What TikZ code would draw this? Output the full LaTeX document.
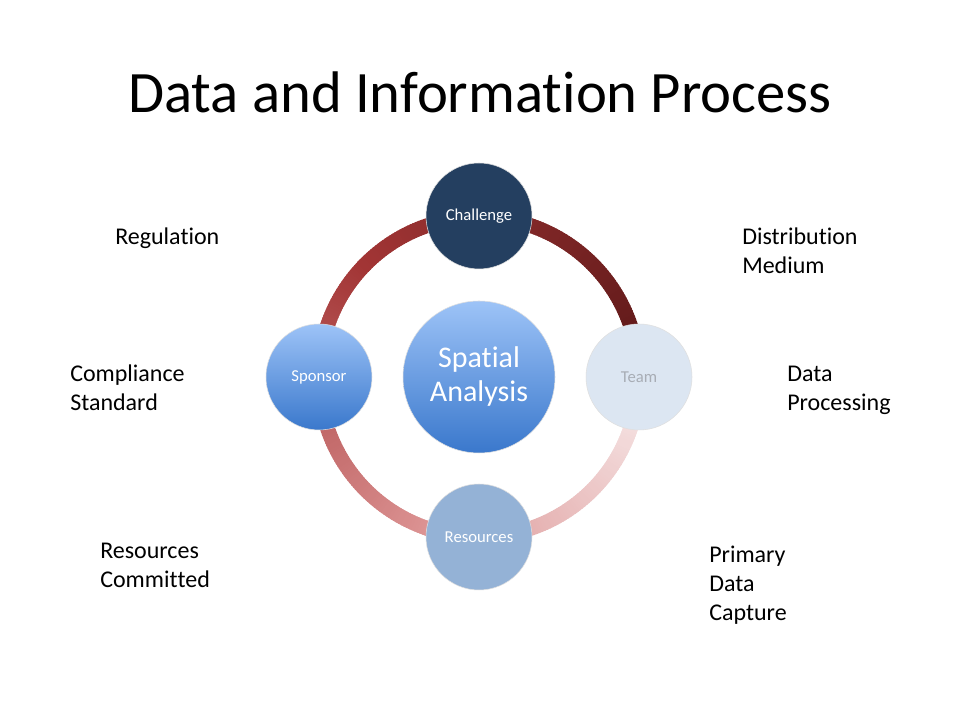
\documentclass[tikz,border=0pt]{standalone}
\usepackage{fontspec}
\setmainfont{Carlito}[Ligatures=NoCommon]
\usepackage{tikz}
\usetikzlibrary{positioning}

\definecolor{navy}{HTML}{243F60}
\definecolor{bluetop}{HTML}{9DC3F7}
\definecolor{bluebot}{HTML}{3A78CC}
\definecolor{teamfill}{HTML}{DCE6F2}
\definecolor{teamtext}{HTML}{A8ADB5}
\definecolor{resfill}{HTML}{94B2D6}
\definecolor{ringA}{HTML}{5C1818}
\definecolor{ringB}{HTML}{A23535}
\definecolor{ringC}{HTML}{DC9393}
\definecolor{ringD}{HTML}{F8ECEC}

\tikzset{
  stage/.style={circle, draw=gray!25, minimum size=79.5pt, inner sep=0pt,
    text=white, font=\fontsize{12.5}{14}\selectfont},
  side/.style={anchor=west, align=left, inner sep=0pt,
    font=\fontsize{18}{21.75}\selectfont}
}

\begin{document}
\begin{tikzpicture}[x=0.75pt, y=0.75pt]

    \useasboundingbox[fill=white] (0,0) rectangle (960,720);

    % Title
    \node (title) at (480,628) {\fontsize{44}{52}\selectfont Data and Informat\kern0pt ion Process};

    % Ring
    \coordinate (ctr) at (479,343);
    \foreach \s/\t/\ca/\cb in {0/135/ringA/ringB,135/250/ringB/ringC,250/359/ringC/ringD}{
      \foreach \a in {\s,...,\t}{
        \pgfmathtruncatemacro{\p}{100*(\a-\s)/(\t-\s)}
        \draw[line width=11pt, color=\cb!\p!\ca] (ctr) ++(\a:160) arc[start angle=\a, end angle=\a+1.6, radius=160];
      }
    }

    % Nodes
    \node[circle, draw=gray!25, minimum size=114pt, inner sep=0pt, top color=bluetop, bottom color=bluebot,
      text=white, align=center, font=\fontsize{22.5}{25.5}\selectfont] (spatial) at (ctr) {Spatial\\Analysis};
    \node[stage, fill=navy] (challenge) at (479,504) {Challenge};
    \node[stage, fill=teamfill, text=teamtext] (team) at (639,343) {Team};
    \node[stage, fill=resfill] (resources) at (479,183) {Resources};
    \node[stage, top color=bluetop, bottom color=bluebot] (sponsor) at (319,343) {Sponsor};

    % Side labels
    \node[side] (regulation) at (115,482) {Regulation};
    \node[side] (compliance) at (70,332.5) {Compliance\\Standard};
    \node[side] (committed) at (100,154.5) {Resources\\Commit\kern0pt ted};
    \node[side] (distribution) at (742,469.5) {Distribution\\Medium};
    \node[side] (processing) at (787,329.5) {Data\\Processing};
    \node[side] (capture) at (709,135) {Primary\\Data\\Capture};

\end{tikzpicture}
\end{document}
